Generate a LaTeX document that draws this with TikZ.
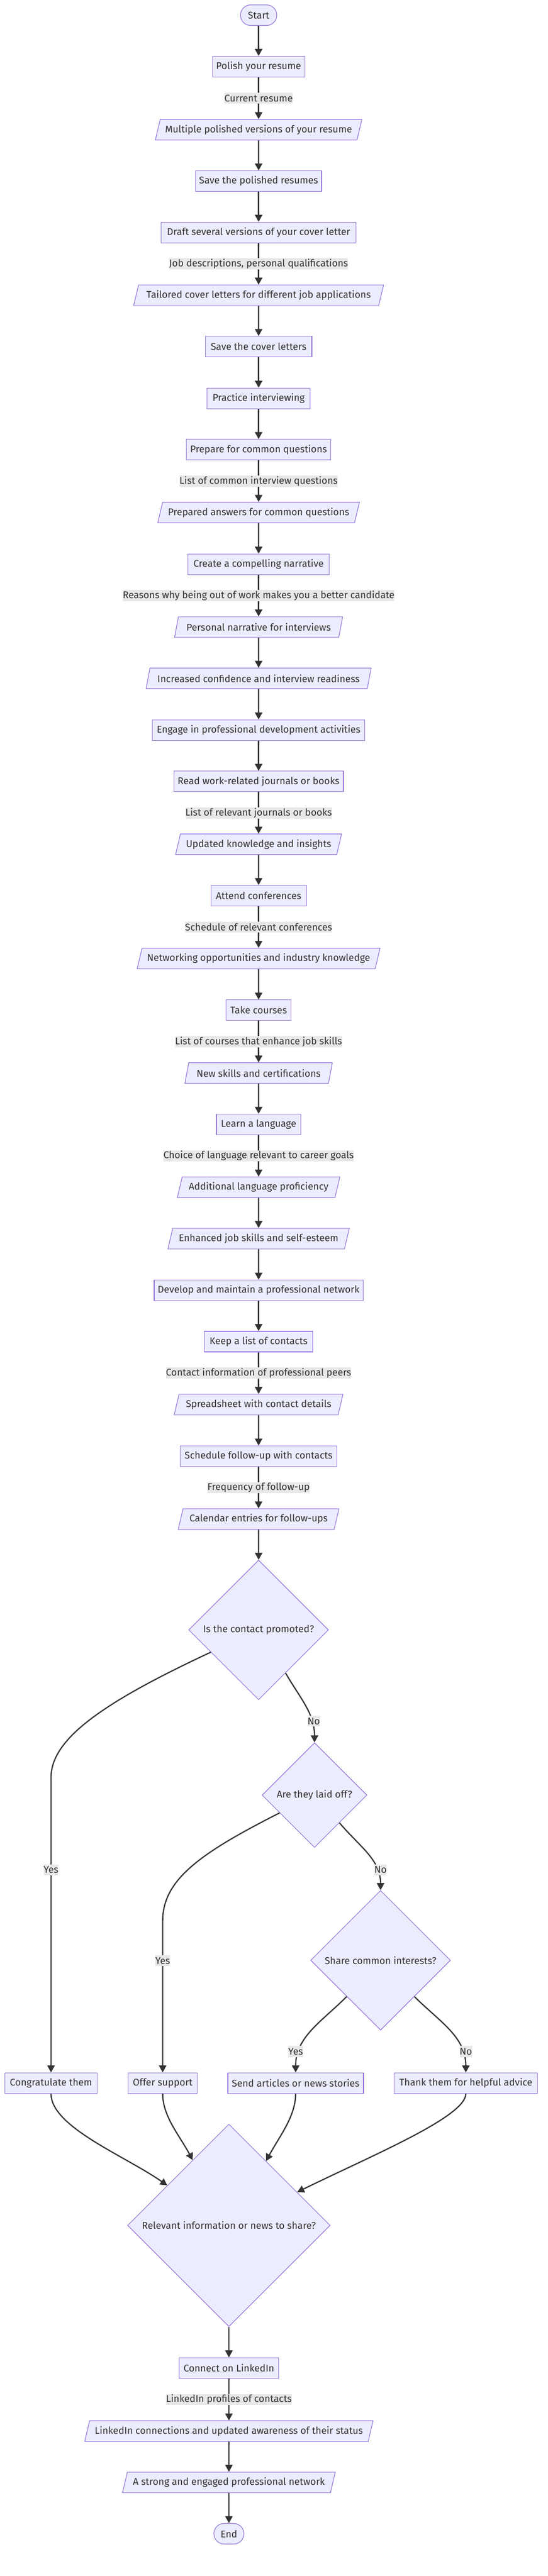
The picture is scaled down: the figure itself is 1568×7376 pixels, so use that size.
\documentclass[tikz,border=0pt]{standalone}
\usepackage{fontspec}
\setmainfont{Fira Sans}
\usetikzlibrary{shapes.geometric,arrows.meta}
\definecolor{nodefill}{HTML}{ECECFF}
\definecolor{nodeline}{HTML}{9370DB}
\definecolor{ink}{HTML}{333333}
\definecolor{lblfill}{HTML}{E8E8E8}
\tikzstyle{arrow} = [-{Triangle[length=20pt,width=21pt]},line width=3.5pt,draw=ink]
\tikzstyle{proc} = [draw=nodeline,fill=nodefill,line width=1.75pt,text=ink,minimum height=59pt,inner sep=0pt,font=\fontsize{28}{34}\selectfont]
\tikzstyle{io} = [proc,trapezium,trapezium left angle=63.43,trapezium right angle=116.57,trapezium stretches body]
\tikzstyle{term} = [proc,rounded corners=29.5pt]
\tikzstyle{decision} = [proc,diamond,aspect=1]
\tikzstyle{elabel} = [fill=lblfill,text=ink,inner xsep=0pt,inner ysep=0pt,minimum height=32pt,font=\fontsize{28}{34}\selectfont]

\begin{document}
\begin{tikzpicture}[x=1pt,y=-1pt]
        \fill[white] (0,0) rectangle (1568,7376);
        \useasboundingbox (0,0) rectangle (1568,7376);
        \node[term, minimum width=104pt] at (740,43.5) (start) {Start};
        \node[proc, minimum width=264pt] at (740,190.5) (polish) {Polish your resume};
        \node[io, minimum width=591pt] at (740,371.5) (multi) {Multiple polished versions of your resume};
        \node[proc, minimum width=361pt] at (740,518.5) (saveres) {Save the polished resumes};
        \node[proc, minimum width=557pt] at (740,665.5) (draft) {Draft several versions of your cover letter};
        \node[io, minimum width=715pt] at (740,845.5) (tailored) {Tailored cover letters for different job applications};
        \node[proc, minimum width=305pt] at (740,992.5) (savecov) {Save the cover letters};
        \node[proc, minimum width=295pt] at (740,1140.5) (practice) {Practice interviewing};
        \node[proc, minimum width=413pt] at (740,1287.5) (prepare) {Prepare for common questions};
        \node[io, minimum width=577pt] at (740,1467.5) (answers) {Prepared answers for common questions};
        \node[proc, minimum width=405pt] at (740,1615.5) (narrative) {Create a compelling narrative};
        \node[io, minimum width=481pt] at (740,1795.5) (personal) {Personal narrative for interviews};
        \node[io, minimum width=644pt] at (740,1942.5) (confident) {Increased confidence and interview readiness};
        \node[proc, minimum width=607pt] at (740,2090.5) (engage) {Engage in professional development activities};
        \node[proc, minimum width=485pt] at (740,2237.5) (journals) {Read work-related journals or books};
        \node[io, minimum width=475pt] at (740,2417.5) (insights) {Updated knowledge and insights};
        \node[proc, minimum width=273pt] at (740,2564.5) (attend) {Attend conferences};
        \node[io, minimum width=695pt] at (740,2744.5) (networking) {Networking opportunities and industry knowledge};
        \node[proc, minimum width=186pt] at (740,2892.5) (courses) {Take courses};
        \node[io, minimum width=422pt] at (740,3072.5) (skills) {New skills and certifications};
        \node[proc, minimum width=241pt] at (740,3219.5) (language) {Learn a language};
        \node[io, minimum width=465pt] at (740,3399.5) (proficiency) {Additional language proficiency};
        \node[io, minimum width=519pt] at (740,3546.5) (esteem) {Enhanced job skills and self-esteem};
        \node[proc, minimum width=598pt] at (740,3694.5) (develop) {Develop and maintain a professional network};
        \node[proc, minimum width=309pt] at (740,3841.5) (contacts) {Keep a list of contacts};
        \node[io, minimum width=483pt] at (740,4021.5) (sheet) {Spreadsheet with contact details};
        \node[proc, minimum width=449pt] at (740,4169.5) (followup) {Schedule follow-up with contacts};
        \node[io, minimum width=460pt] at (740,4349.5) (calendar) {Calendar entries for follow-ups};
        \node[decision, minimum width=400pt, minimum height=400pt] at (740,4667) (promoted) {Is the contact promoted?};
        \node[decision, minimum width=300pt, minimum height=300pt] at (900,5140) (laidoff) {Are they laid off?};
        \node[decision, minimum width=400pt, minimum height=400pt] at (1089,5613) (interests) {Share common interests?};
        \node[proc, minimum width=265pt] at (146,5964.5) (congrats) {Congratulate them};
        \node[proc, minimum width=197pt] at (465.5,5964.5) (support) {Offer support};
        \node[proc, minimum width=388pt] at (846,5964.5) (articles) {Send articles or news stories};
        \node[proc, minimum width=410pt] at (1333,5964.5) (thanks) {Thank them for helpful advice};
        \node[decision, minimum width=580pt, minimum height=580pt] at (655,6372) (relevant) {Relevant information or news to share?};
        \node[proc, minimum width=284pt] at (655,6780.5) (linkedin) {Connect on LinkedIn};
        \node[io, minimum width=825pt] at (655,6961) (connections) {LinkedIn connections and updated awareness of their status};
        \node[io, minimum width=609pt] at (655,7108) (strongnet) {A strong and engaged professional network};
        \node[term, minimum width=86pt] at (655,7255) (finish) {End};

        \draw[arrow] (start) -- (polish);
        \draw[arrow] (polish) -- (multi) node[midway, elabel]{Current resume};
        \draw[arrow] (multi) -- (saveres);
        \draw[arrow] (saveres) -- (draft);
        \draw[arrow] (draft) -- (tailored) node[midway, elabel]{Job descriptions, personal qualifications};
        \draw[arrow] (tailored) -- (savecov);
        \draw[arrow] (savecov) -- (practice);
        \draw[arrow] (practice) -- (prepare);
        \draw[arrow] (prepare) -- (answers) node[midway, elabel]{List of common interview questions};
        \draw[arrow] (answers) -- (narrative);
        \draw[arrow] (narrative) -- (personal) node[midway, elabel]{Reasons why being out of work makes you a better candidate};
        \draw[arrow] (personal) -- (confident);
        \draw[arrow] (confident) -- (engage);
        \draw[arrow] (engage) -- (journals);
        \draw[arrow] (journals) -- (insights) node[midway, elabel]{List of relevant journals or books};
        \draw[arrow] (insights) -- (attend);
        \draw[arrow] (attend) -- (networking) node[midway, elabel]{Schedule of relevant conferences};
        \draw[arrow] (networking) -- (courses);
        \draw[arrow] (courses) -- (skills) node[midway, elabel]{List of courses that enhance job skills};
        \draw[arrow] (skills) -- (language);
        \draw[arrow] (language) -- (proficiency) node[midway, elabel]{Choice of language relevant to career goals};
        \draw[arrow] (proficiency) -- (esteem);
        \draw[arrow] (esteem) -- (develop);
        \draw[arrow] (develop) -- (contacts);
        \draw[arrow] (contacts) -- (sheet) node[midway, elabel]{Contact information of professional peers};
        \draw[arrow] (sheet) -- (followup);
        \draw[arrow] (followup) -- (calendar) node[midway, elabel]{Frequency of follow-up};
        \draw[arrow] (calendar) -- (promoted);
        \draw[arrow] (promoted.205) .. controls (290,4877) and (146,4980) .. (146,5090) -- (congrats.north);
        \draw[arrow] (promoted.-58) to[out=-60, in=90] (laidoff.north);
        \draw[arrow] (laidoff.207) .. controls (578,5304) and (465.5,5380) .. (465.5,5500) -- (support.north);
        \draw[arrow] (laidoff.-48) to[out=-50, in=90] (interests.north);
        \draw[arrow] (interests.227) to[out=225, in=90] (articles.north);
        \draw[arrow] (interests.-47) to[out=-45, in=90] (thanks.north);
        \draw[arrow] (congrats.south) .. controls (146,6090) and (356,6172) .. (relevant.147);
        \draw[arrow] (support.south) .. controls (465.5,6060) and (514,6115) .. (relevant.119);
        \draw[arrow] (articles.south) .. controls (846,6060) and (799,6118) .. (relevant.60);
        \draw[arrow] (thanks.south) .. controls (1333,6060) and (1075,6167) .. (relevant.26);
        \draw[arrow] (relevant) -- (linkedin);
        \draw[arrow] (linkedin) -- (connections) node[midway, elabel]{LinkedIn profiles of contacts};
        \draw[arrow] (connections) -- (strongnet);
        \draw[arrow] (strongnet) -- (finish);
        \node[elabel] at (146,5354) (yes1) {Yes};
        \node[elabel] at (898,4928) (no1) {No};
        \node[elabel] at (465.5,5614) (yes2) {Yes};
        \node[elabel] at (1089,5354) (no2) {No};
        \node[elabel] at (846,5874) (yes3) {Yes};
        \node[elabel] at (1333,5874) (no3) {No};
      \end{tikzpicture}
\end{document}
